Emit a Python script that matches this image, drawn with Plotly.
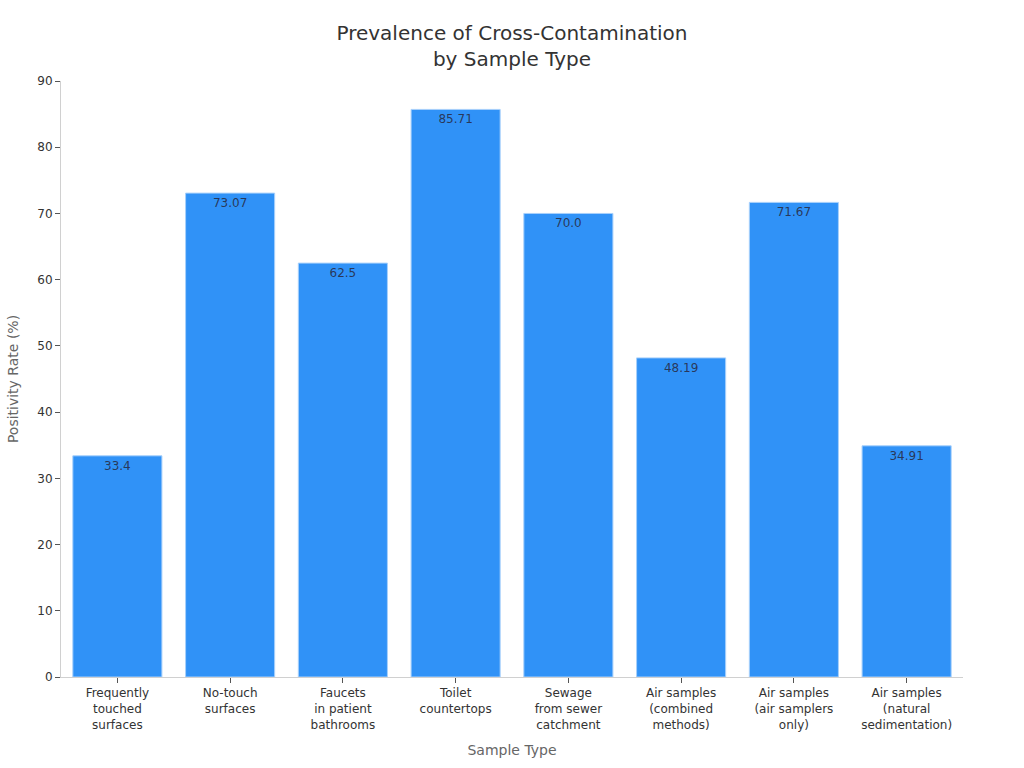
import plotly.graph_objects as go

categories = [
    "Frequently<br>touched<br>surfaces",
    "No-touch<br>surfaces",
    "Faucets<br>in patient<br>bathrooms",
    "Toilet<br>countertops",
    "Sewage<br>from sewer<br>catchment",
    "Air samples<br>(combined<br>methods)",
    "Air samples<br>(air samplers<br>only)",
    "Air samples<br>(natural<br>sedimentation)",
]
positivity = [33.4, 73.07, 62.5, 85.71, 70.0, 48.19, 71.67, 34.91]
labels = ["33.4", "73.07", "62.5", "85.71", "70.0", "48.19", "71.67", "34.91"]

fig = go.Figure(go.Bar(
    x=categories,
    y=positivity,
    text=labels,
    textposition="inside",
    insidetextanchor="end",
    textangle=0,
    textfont=dict(color="rgba(40,40,60,0.85)", size=12, family="DejaVu Sans"),
    marker=dict(color="#3092f7", line=dict(color="#a8d0fb", width=1)),
))

fig.update_layout(
    width=1024, height=768,
    paper_bgcolor="white", plot_bgcolor="white",
    font=dict(family="DejaVu Sans", color="#333333", size=12),
    title=dict(text="Prevalence of Cross-Contamination<br>by Sample Type",
               x=0.5, xanchor="center", y=0.948, yanchor="top",
               font=dict(size=20, color="#333333")),
    margin=dict(l=61, r=61, t=81, b=91),
    bargap=0.21,
    showlegend=False,
)
fig.update_xaxes(
    title=dict(text="Sample Type", font=dict(size=14, color="#666666"), standoff=14),
    showline=True, linecolor="#d0d0d0", linewidth=1,
    ticks="outside", tickcolor="#555555", ticklen=5,
    tickfont=dict(size=12, color="#333333"),
    showgrid=False,
)
fig.update_yaxes(
    title=dict(text="Positivity Rate (%)", font=dict(size=14, color="#666666")),
    range=[0, 90], dtick=10,
    showline=True, linecolor="#d0d0d0", linewidth=1,
    ticks="outside", tickcolor="#555555", ticklen=5,
    tickfont=dict(size=12, color="#333333"),
    showgrid=False, zeroline=False,
)

fig.write_html("out.html")
